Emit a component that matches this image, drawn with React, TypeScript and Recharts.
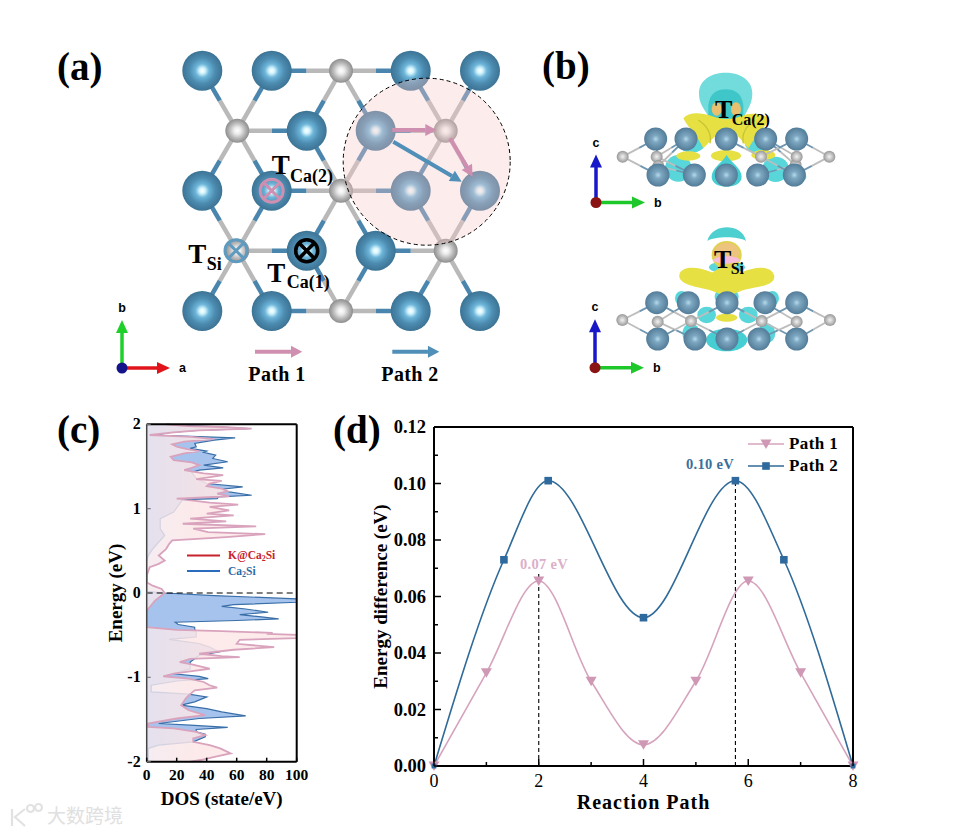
import React from 'react';
import {
  ComposedChart, Area, LineChart, Line, ScatterChart, Scatter, XAxis, YAxis,
  ReferenceLine, Legend,
} from 'recharts';

const SERIF = '"Liberation Serif", "Times New Roman", serif';
const SANS = '"Liberation Sans", Arial, sans-serif';

// panel (d) barrier profiles: [reaction coordinate, energy]
const path1X = [0, 1, 2, 3, 4, 5, 6, 7, 8];
const path1Y = [0, 0.033, 0.0655, 0.03, 0.0075, 0.03, 0.0655, 0.033, 0];
const path2X = [0, 1.335, 2.18, 4, 5.755, 6.68, 8];
const path2Y = [0, 0.073, 0.101, 0.0525, 0.101, 0.073, 0];
const xTicksD = [0, 1, 2, 3, 4, 5, 6, 7, 8];
const yTicksD = [0, 0.01, 0.02, 0.03, 0.04, 0.05, 0.06, 0.07, 0.08, 0.09, 0.1, 0.11, 0.12];

// panel (c) density of states: [energy, dos]
const dosDoped = [
  [2, 13], [1.98, 27], [1.968, 50], [1.948, 70], [1.929, 35], [1.905, 18], [1.873, 2], [1.85, 30], [1.825, 45],
  [1.794, 25], [1.762, 17], [1.734, 20], [1.706, 27], [1.682, 35], [1.655, 25], [1.615, 16], [1.575, 18], [1.548, 30],
  [1.516, 35], [1.484, 30], [1.456, 25], [1.417, 38], [1.397, 51], [1.369, 40], [1.349, 33], [1.33, 50], [1.298, 42],
  [1.266, 40], [1.238, 50], [1.206, 54], [1.179, 47], [1.147, 55], [1.119, 20], [1.071, 42], [1.048, 61], [1.02, 42],
  [0.98, 55], [0.94, 40], [0.92, 58], [0.881, 29], [0.849, 53], [0.821, 24], [0.79, 73], [0.762, 31], [0.722, 41],
  [0.698, 79], [0.663, 53], [0.623, 17], [0.583, 15], [0.524, 13], [0.444, 8], [0.385, 12], [0.345, 8], [0.306, 2],
  [0.206, 0], [0.127, 0], [0.087, 4], [0.048, 10], [0, 12], [-0.09, 5.5], [-0.21, 0], [-0.405, 0], [-0.437, 20],
  [-0.453, 50], [-0.472, 84], [-0.484, 80], [-0.496, 100], [-0.535, 100], [-0.555, 62], [-0.602, 60], [-0.642, 85],
  [-0.673, 58], [-0.72, 35], [-0.748, 50], [-0.76, 62], [-0.78, 29], [-0.819, 22], [-0.846, 30], [-0.898, 42],
  [-0.929, 29], [-0.957, 18], [-0.988, 11], [-1.016, 28], [-1.055, 38], [-1.094, 42], [-1.122, 47], [-1.153, 32],
  [-1.213, 28], [-1.252, 26], [-1.331, 23], [-1.39, 28], [-1.449, 39], [-1.488, 20], [-1.547, 1], [-1.587, 1],
  [-1.606, 18], [-1.646, 33], [-1.685, 39], [-1.724, 31], [-1.764, 31], [-1.803, 42], [-1.843, 49], [-1.902, 56],
  [-1.941, 46], [-1.98, 36], [-2, 29],
];
const dosPristine = [
  [2, 13], [1.968, 50], [1.948, 68], [1.929, 33], [1.905, 16], [1.873, 5], [1.84, 59], [1.813, 45], [1.774, 32],
  [1.734, 33], [1.714, 29], [1.682, 40], [1.667, 38], [1.635, 46], [1.595, 44], [1.556, 54], [1.516, 38], [1.484, 51],
  [1.456, 35], [1.43, 30], [1.357, 33], [1.298, 40], [1.258, 64], [1.23, 50], [1.198, 55], [1.159, 70], [1.139, 48],
  [1.119, 47], [1.107, 24], [1.06, 22], [0.96, 18], [0.881, 9], [0.762, 9], [0.683, 12], [0.524, 4], [0.444, 1],
  [0.365, 0], [0.02, 0], [0, 12], [-0.03, 45], [-0.07, 100], [-0.11, 100], [-0.138, 58], [-0.158, 50], [-0.19, 66],
  [-0.228, 81], [-0.256, 62], [-0.28, 75], [-0.307, 88], [-0.326, 60], [-0.346, 19], [-0.374, 21], [-0.405, 32],
  [-0.43, 32], [-0.46, 33], [-0.52, 33], [-0.55, 15], [-0.6, 35], [-0.642, 42], [-0.7, 48], [-0.74, 35], [-0.819, 29],
  [-0.898, 29], [-0.957, 18], [-0.988, 35], [-1.016, 41], [-1.043, 20], [-1.094, 3], [-1.173, 3], [-1.2, 28],
  [-1.232, 40], [-1.29, 32], [-1.33, 23], [-1.37, 40], [-1.41, 50], [-1.457, 66], [-1.488, 35], [-1.547, 8],
  [-1.567, 29], [-1.594, 54], [-1.618, 33], [-1.646, 33], [-1.673, 39], [-1.705, 39], [-1.764, 31], [-1.803, 8],
  [-1.843, 1], [-2, 1],
];
const xTicksC = [0, 20, 40, 60, 80, 100];
const yTicksC = [-2, -1, 0, 1, 2];

// atom sites in panel (a), picture pixels
const caRows = [70.7, 190.7, 311];
const caColsOuter = [202.3, 271.7, 410.7, 480];
const caInner = [[306.7, 130.7], [375.7, 130.7], [306.7, 250.7], [375.7, 250.7]];
const siSites = [[341, 70.7], [237.3, 130.7], [445.7, 130.7], [341, 190.7], [237.3, 250.7], [445.7, 250.7], [341, 311]];
const caSites = [...caRows.flatMap((y) => caColsOuter.map((x) => [x, y])), ...caInner];

// Si -> Ca bonds in panel (a)
const bondsA = [
  [341, 70.7, 271.7, 70.7], [341, 70.7, 410.7, 70.7], [341, 70.7, 306.7, 130.7], [341, 70.7, 375.7, 130.7],
  [237.3, 130.7, 202.3, 70.7], [237.3, 130.7, 271.7, 70.7], [237.3, 130.7, 306.7, 130.7], [237.3, 130.7, 202.3, 190.7], [237.3, 130.7, 271.7, 190.7],
  [445.7, 130.7, 410.7, 70.7], [445.7, 130.7, 480, 70.7], [445.7, 130.7, 375.7, 130.7], [445.7, 130.7, 410.7, 190.7], [445.7, 130.7, 480, 190.7],
  [341, 190.7, 306.7, 130.7], [341, 190.7, 375.7, 130.7], [341, 190.7, 271.7, 190.7], [341, 190.7, 410.7, 190.7], [341, 190.7, 306.7, 250.7], [341, 190.7, 375.7, 250.7],
  [237.3, 250.7, 202.3, 190.7], [237.3, 250.7, 271.7, 190.7], [237.3, 250.7, 306.7, 250.7], [237.3, 250.7, 202.3, 311], [237.3, 250.7, 271.7, 311],
  [445.7, 250.7, 410.7, 190.7], [445.7, 250.7, 480, 190.7], [445.7, 250.7, 375.7, 250.7], [445.7, 250.7, 410.7, 311], [445.7, 250.7, 480, 311],
  [341, 311, 271.7, 311], [341, 311, 410.7, 311], [341, 311, 306.7, 250.7], [341, 311, 375.7, 250.7],
];

// panel (b) side views, in zoomed coordinates of the crop (x/3+535, y/3+40)
const bCa = [
  [362, 297], [453, 297], [574, 297], [692, 297], [785, 297], [369, 405], [478, 405], [574, 405], [668, 405], [778, 405],
  [365, 788], [460, 788], [576, 788], [690, 788], [785, 788], [368, 897], [480, 897], [576, 897], [672, 897], [785, 897],
];
const bSi = [
  [263, 350], [365, 350], [370, 378], [678, 350], [782, 375], [785, 350], [883, 350],
  [262, 840], [368, 845], [468, 843], [680, 843], [785, 845], [885, 840],
];
const bBonds = [
  [263, 350, 362, 297], [263, 350, 369, 405], [883, 350, 785, 297], [883, 350, 778, 405],
  [370, 378, 453, 297], [370, 378, 478, 405], [370, 378, 362, 297], [365, 350, 453, 297], [365, 350, 478, 405],
  [782, 375, 692, 297], [782, 375, 668, 405], [785, 350, 692, 297], [678, 350, 574, 297], [678, 350, 785, 297], [678, 350, 778, 405],
  [262, 840, 365, 788], [262, 840, 368, 897], [885, 840, 785, 788], [885, 840, 785, 897],
  [368, 845, 460, 788], [368, 845, 480, 897], [468, 843, 365, 788], [468, 843, 368, 897], [468, 843, 576, 788], [468, 843, 576, 897],
  [680, 843, 576, 788], [680, 843, 576, 897], [680, 843, 785, 788], [680, 843, 785, 897], [785, 845, 690, 788], [785, 845, 672, 897],
];
const bxy = ([x, y]: number[]) => ({ x: 535 + x / 3, y: 40 + y / 3 });

const sitesToPoints = (s: number[][]) => s.map(([x, y]) => ({ x, y }));
const zip = (xs: number[], ys: number[]) => xs.map((x, i) => ({ x, y: ys[i] }));
const toDos = (s: number[][]) => s.map(([e, dos]) => ({ e, dos }));

const COLORS = { path1: '#d6a3bd', path2: '#2f6a98', path1Mark: '#cf98b4', path2Mark: '#2f6a9e' };

function Atom(props: any, r: number, fill: string) {
  return <circle key={`${props.cx}-${props.cy}`} cx={props.cx} cy={props.cy} r={r} fill={fill} />;
}

function Crystal() {
  const half = (b: number[]) => [(b[0] + b[2]) / 2, (b[1] + b[3]) / 2];
  return (
    <ScatterChart width={953} height={400} margin={{ top: 0, right: 0, bottom: 0, left: 0 }} style={{ position: 'absolute', left: 0, top: 0 }}>
      <XAxis type="number" dataKey="x" domain={[0, 953]} hide />
      <YAxis type="number" dataKey="y" domain={[0, 400]} reversed hide />
      {bondsA.map((b, i) => {
        const m = half(b);
        return [
          <ReferenceLine key={`as${i}`} segment={[{ x: b[0], y: b[1] }, { x: m[0], y: m[1] }]} stroke="#b9b9b9" strokeWidth={4.5} />,
          <ReferenceLine key={`ac${i}`} segment={[{ x: m[0], y: m[1] }, { x: b[2], y: b[3] }]} stroke="#4a85ad" strokeWidth={4.5} />,
        ];
      })}
      {bBonds.map((b, i) => {
        const s = bxy([b[0], b[1]]);
        const c = bxy([b[2], b[3]]);
        const m = { x: (s.x + c.x) / 2, y: (s.y + c.y) / 2 };
        return [
          <ReferenceLine key={`bs${i}`} segment={[s, m]} stroke="#bdbdbd" strokeWidth={1.8} />,
          <ReferenceLine key={`bc${i}`} segment={[m, c]} stroke="#6f96b0" strokeWidth={1.8} />,
        ];
      })}
      <Scatter data={sitesToPoints(caSites)} isAnimationActive={false} shape={(p: any) => Atom(p, 20, 'url(#caGrad)')} />
      <Scatter data={sitesToPoints(siSites)} isAnimationActive={false} shape={(p: any) => Atom(p, 12, 'url(#siGrad)')} />
      <Scatter data={bSi.map(bxy)} isAnimationActive={false} shape={(p: any) => Atom(p, 6, 'url(#siSmall)')} />
      <Scatter data={bCa.map(bxy)} isAnimationActive={false} shape={(p: any) => Atom(p, 11.5, 'url(#caSmall)')} />
    </ScatterChart>
  );
}

function DosTickX({ x, y, payload }: any) {
  return (
    <g>
      <line x1={x} x2={x} y1={y} y2={y - 4} stroke="#000" strokeWidth={1.5} />
      <text x={x} y={y + 18} textAnchor="middle" fontFamily={SERIF} fontWeight="bold" fontSize={15.5}>{payload.value}</text>
    </g>
  );
}

function DosTickY({ x, y, payload }: any) {
  return (
    <g>
      <line x1={x} x2={x + 4} y1={y} y2={y} stroke="#777" strokeWidth={1.2} />
      <text x={x - 6} y={y + 5} textAnchor="end" fontFamily={SERIF} fontWeight="bold" fontSize={16}>{payload.value}</text>
    </g>
  );
}

function DosChart() {
  return (
    <ComposedChart
      layout="vertical" width={215} height={400}
      margin={{ top: 14.3, right: 18.3, bottom: 0, left: 0 }}
      style={{ position: 'absolute', left: 100, top: 410 }}
    >
      <XAxis
        type="number" domain={[0, 100]} ticks={xTicksC} interval={0} height={48.3}
        tickSize={0} tickMargin={0} tick={<DosTickX />} tickLine={false}
        axisLine={{ stroke: '#000', strokeWidth: 2 }} allowDataOverflow
        label={{ value: 'DOS (state/eV)', position: 'center', dy: 12, style: { fontFamily: SERIF, fontWeight: 'bold', fontSize: 19, fill: '#000' } }}
      />
      <YAxis
        type="number" dataKey="e" domain={[-2, 2]} ticks={yTicksC} interval={0} width={46.7} reversed
        tickSize={0} tickMargin={0} tick={<DosTickY />} tickLine={false}
        axisLine={{ stroke: '#444', strokeWidth: 1.5 }}
        label={{ value: 'Energy (eV)', angle: -90, position: 'center', dx: -8, style: { fontFamily: SERIF, fontWeight: 'bold', fontSize: 19, fill: '#000' } }}
      />
      <ReferenceLine y={2} stroke="#000" strokeWidth={2} />
      <ReferenceLine x={100} stroke="#000" strokeWidth={2} />
      <Area data={toDos(dosPristine)} dataKey="dos" type="linear" stroke="#3a6fa8" strokeWidth={1.2} fill="#a6c3ee" fillOpacity={1} isAnimationActive={false} dot={false} activeDot={false} />
      <Area data={toDos(dosDoped)} dataKey="dos" type="linear" stroke="#d9a3bd" strokeWidth={1.8} fill="url(#pinkGrad)" fillOpacity={1} isAnimationActive={false} dot={false} activeDot={false} />
      <ReferenceLine y={0} stroke="#000" strokeWidth={1} strokeDasharray="6 4" />
    </ComposedChart>
  );
}

function TickX({ x, y, payload }: any) {
  const major = payload.value % 2 === 0;
  return (
    <g>
      <line x1={x} x2={x} y1={y} y2={y - (major ? 7 : 4)} stroke="#000" strokeWidth={1.5} />
      {major && <text x={x} y={y + 21} textAnchor="middle" fontFamily={SERIF} fontSize={18}>{payload.value}</text>}
    </g>
  );
}

function TickY({ x, y, payload }: any) {
  const major = Math.round(payload.value * 100) % 2 === 0;
  return (
    <g>
      <line x1={x} x2={x + (major ? 7 : 4)} y1={y} y2={y} stroke="#000" strokeWidth={1.5} />
      {major && <text x={x - 8} y={y + 6} textAnchor="end" fontFamily={SERIF} fontWeight="bold" fontSize={18.5}>{payload.value.toFixed(2)}</text>}
    </g>
  );
}

const triDot = (p: any) => (
  <path key={`t${p.cx}`} d={`M${p.cx - 5.5} ${p.cy - 4.5}h11l-5.5 9.5z`} fill={COLORS.path1Mark} />
);
// the two end points sit on the frame and only show as small dots
const squareDot = (p: any) => {
  const end = p.index === 0 || p.index === path2X.length - 1;
  const s = end ? 2.4 : 3.8;
  return <rect key={`s${p.cx}`} x={p.cx - s} y={p.cy - s} width={s * 2} height={s * 2} fill={COLORS.path2Mark} />;
};

function PathLegend({ payload }: any) {
  return (
    <div style={{ fontFamily: SERIF, fontWeight: 'bold', fontSize: 17, letterSpacing: 0.4, lineHeight: '22px' }}>
      {(payload || []).map((it: any) => (
        <div key={it.value} style={{ display: 'flex', alignItems: 'center', height: 22 }}>
          <svg width={41} height={14}>
            <line x1={0} x2={36} y1={7} y2={7} stroke={it.color} strokeWidth={1.5} />
            {it.value === 'Path 1'
              ? <path d="M12.5 2.5h11l-5.5 9.5z" fill={COLORS.path1Mark} />
              : <rect x={14.2} y={3.2} width={7.6} height={7.6} fill={COLORS.path2Mark} />}
          </svg>
          <span>{it.value}</span>
        </div>
      ))}
    </div>
  );
}

function EnergyChart() {
  return (
    <LineChart
      width={540} height={420} margin={{ top: 17, right: 27, bottom: 0, left: 0 }}
      style={{ position: 'absolute', left: 340, top: 410 }}
    >
      <XAxis
        type="number" dataKey="x" domain={[0, 8]} ticks={xTicksD} interval={0} height={64}
        tickSize={0} tickMargin={0} tick={<TickX />} tickLine={false} axisLine={{ stroke: '#000', strokeWidth: 2 }}
        label={{ value: 'Reaction Path', position: 'center', dy: 3.5, style: { fontFamily: SERIF, fontWeight: 'bold', fontSize: 20, letterSpacing: 1, fill: '#000' } }}
      />
      <YAxis
        type="number" dataKey="y" domain={[0, 0.12]} ticks={yTicksD} interval={0} width={94}
        tickSize={0} tickMargin={0} tick={<TickY />} tickLine={false} axisLine={{ stroke: '#000', strokeWidth: 2 }}
        label={{ value: 'Energy difference (eV)', angle: -90, position: 'center', dx: -7, style: { fontFamily: SERIF, fontWeight: 'bold', fontSize: 19, fill: '#000' } }}
      />
      <ReferenceLine y={0.12} stroke="#000" strokeWidth={2} />
      <ReferenceLine x={8} stroke="#000" strokeWidth={2} />
      <ReferenceLine segment={[{ x: 2, y: 0 }, { x: 2, y: 0.068 }]} stroke="#000" strokeWidth={1.1} strokeDasharray="4 3" />
      <ReferenceLine segment={[{ x: 5.755, y: 0 }, { x: 5.755, y: 0.101 }]} stroke="#000" strokeWidth={1.1} strokeDasharray="4 3" />
      <Legend
        layout="horizontal" align="center" verticalAlign="middle"
        content={<PathLegend />}
        wrapperStyle={{ left: 408, top: 23, width: 110, height: 44 }}
      />
      <Line name="Path 1" data={zip(path1X, path1Y)} dataKey="y" type="monotone" stroke={COLORS.path1} strokeWidth={1.6} dot={triDot} isAnimationActive={false} />
      <Line name="Path 2" data={zip(path2X, path2Y)} dataKey="y" type="monotone" stroke={COLORS.path2} strokeWidth={1.6} dot={squareDot} isAnimationActive={false} />
    </LineChart>
  );
}

function Defs() {
  return (
    <defs>
      <radialGradient id="caGrad">
        <stop offset="0%" stopColor="#ffffff" />
        <stop offset="14%" stopColor="#d5f5fd" />
        <stop offset="34%" stopColor="#6db5d9" />
        <stop offset="65%" stopColor="#4c8bb0" />
        <stop offset="100%" stopColor="#3c7394" />
      </radialGradient>
      <radialGradient id="siGrad">
        <stop offset="0%" stopColor="#ffffff" />
        <stop offset="28%" stopColor="#ececec" />
        <stop offset="65%" stopColor="#b8b8b8" />
        <stop offset="100%" stopColor="#8d8d8d" />
      </radialGradient>
      <radialGradient id="caSmall">
        <stop offset="0%" stopColor="#b4dbec" />
        <stop offset="30%" stopColor="#7ea7c2" />
        <stop offset="100%" stopColor="#537c98" />
      </radialGradient>
      <radialGradient id="siSmall">
        <stop offset="0%" stopColor="#f2f2f2" />
        <stop offset="60%" stopColor="#bdbdbd" />
        <stop offset="100%" stopColor="#979797" />
      </radialGradient>
      <linearGradient id="pinkGrad" x1="0" x2="1" y1="0" y2="0">
        <stop offset="0%" stopColor="#f3e8ee" stopOpacity={0.8} />
        <stop offset="35%" stopColor="#fde6e6" stopOpacity={0.86} />
        <stop offset="100%" stopColor="#fdeaea" stopOpacity={0.9} />
      </linearGradient>
    </defs>
  );
}

// isosurfaces behind the atoms, crop coordinates of panel (b)
function Isosurfaces() {
  const Y = '#e6e042';
  const C = '#58d6da';
  return (
    <g transform="translate(535 40) scale(0.3333)">
      {/* upper cell */}
      <ellipse cx={430} cy={385} rx={40} ry={40} fill={C} />
      <ellipse cx={722} cy={388} rx={40} ry={38} fill={C} />
      <ellipse cx={470} cy={310} rx={40} ry={28} fill={C} />
      <ellipse cx={670} cy={310} rx={40} ry={28} fill={C} />
      <ellipse cx={800} cy={280} rx={14} ry={14} fill={C} />
      <ellipse cx={800} cy={410} rx={14} ry={14} fill={C} />
      <path d="M492 160C492 120 530 98 572 98C615 98 652 120 652 160C652 190 640 205 625 235L525 235C505 205 492 190 492 160Z" fill="#72dcdc" />
      <path d="M520 195C525 160 545 148 572 148C600 148 620 160 625 195L625 240L520 240Z" fill="#3fc6c8" />
      <ellipse cx={545} cy={207} rx={15} ry={20} fill="#e8c070" />
      <ellipse cx={603} cy={207} rx={15} ry={20} fill="#e8c070" />
      <path d="M445 235C460 218 490 215 530 228C560 240 590 240 620 228C650 215 690 222 702 238C690 262 660 290 640 325C620 300 600 275 575 268C550 275 530 300 505 325C490 290 460 265 445 235Z" fill={Y} />
      <path d="M490 240C520 260 530 285 525 310M660 240C630 260 620 285 625 310" stroke="#c9c434" strokeWidth={4} fill="none" />
      <ellipse cx={460} cy={348} rx={36} ry={14} fill={Y} />
      <ellipse cx={573} cy={347} rx={45} ry={17} fill={Y} />
      <ellipse cx={685} cy={345} rx={36} ry={15} fill={Y} />
      <path d="M575 345C590 370 620 385 620 410C620 430 600 440 575 440C550 440 530 430 530 410C530 385 560 370 575 345Z" fill="#45cfd3" />
      {/* lower cell */}
      <ellipse cx={440} cy={775} rx={20} ry={22} fill={C} />
      <ellipse cx={712} cy={775} rx={20} ry={22} fill={C} />
      <ellipse cx={515} cy={825} rx={28} ry={25} fill={C} />
      <ellipse cx={640} cy={825} rx={28} ry={25} fill={C} />
      <ellipse cx={468} cy={880} rx={26} ry={30} fill={C} />
      <ellipse cx={695} cy={880} rx={26} ry={30} fill={C} />
      <ellipse cx={575} cy={900} rx={62} ry={34} fill="#45cfd3" />
      <ellipse cx={575} cy={770} rx={36} ry={26} fill={C} />
      <ellipse cx={575} cy={833} rx={32} ry={12} fill={Y} />
      <path d="M517 603C525 572 555 562 575 562C600 562 628 575 633 603C610 588 540 588 517 603Z" fill="#4fd0d0" />
      <ellipse cx={548} cy={682} rx={26} ry={14} fill={C} />
      <ellipse cx={604} cy={682} rx={26} ry={14} fill={C} />
      <path d="M433 705C437 682 475 675 530 697L620 697C670 675 712 680 718 708C720 730 690 738 650 745C620 750 600 760 575 772C550 760 530 750 500 745C470 738 430 730 433 705Z" fill={Y} />
      <ellipse cx={575} cy={712} rx={46} ry={30} fill={Y} />
      <ellipse cx={575} cy={645} rx={45} ry={42} fill="#dfd24e" />
      <ellipse cx={575} cy={638} rx={37} ry={30} fill="#ecc47e" />
      <ellipse cx={575} cy={660} rx={40} ry={11} fill="#f6bcd8" />
    </g>
  );
}

function Arrow({ x1, y1, x2, y2, color, w = 12, len = 34, hw = 18 }: any) {
  const d = Math.hypot(x2 - x1, y2 - y1);
  const ux = (x2 - x1) / d;
  const uy = (y2 - y1) / d;
  const bx = x2 - ux * len;
  const by = y2 - uy * len;
  return (
    <g>
      <line x1={x1} y1={y1} x2={bx} y2={by} stroke={color} strokeWidth={w} />
      <path d={`M${x2} ${y2}L${bx - uy * hw} ${by + ux * hw}L${bx + uy * hw} ${by - ux * hw}Z`} fill={color} />
    </g>
  );
}

function CrossMark({ cx, cy, r, color, w }: any) {
  const k = r * 0.7;
  return (
    <g fill="none" stroke={color} strokeWidth={w}>
      <circle cx={cx} cy={cy} r={r} />
      <path d={`M${cx - k} ${cy - k}L${cx + k} ${cy + k}M${cx - k} ${cy + k}L${cx + k} ${cy - k}`} />
    </g>
  );
}

function Site({ x, y, sub, bx, by, size = 27, subSize = 18 }: any) {
  return (
    <g fontFamily={SERIF} fontWeight="bold">
      <text x={x} y={y} fontSize={size}>T</text>
      <text x={bx} y={by} fontSize={subSize}>{sub}</text>
    </g>
  );
}

function Triad({ ox, oy, up, right, upLabel, rightLabel, upColor, rightColor, dot }: any) {
  return (
    <g>
      <line x1={ox} y1={oy} x2={ox} y2={oy - up + 12} stroke={upColor} strokeWidth={3.5} />
      <path d={`M${ox} ${oy - up}l-6 13h12z`} fill={upColor} />
      <line x1={ox} y1={oy} x2={ox + right - 12} y2={oy} stroke={rightColor} strokeWidth={3.5} />
      <path d={`M${ox + right} ${oy}l-13 -6v12z`} fill={rightColor} />
      <circle cx={ox} cy={oy} r={5.5} fill={dot} />
      <text x={ox} y={oy - up - 8} textAnchor="middle" fontFamily={SANS} fontWeight="bold" fontSize={12.5}>{upLabel}</text>
      <text x={ox + right + 9} y={oy + 4} fontFamily={SANS} fontWeight="bold" fontSize={12.5}>{rightLabel}</text>
    </g>
  );
}

function Overlay() {
  const label = { fontFamily: SERIF, fontWeight: 'bold' } as const;
  return (
    <svg width={953} height={834} style={{ position: 'absolute', left: 0, top: 0, pointerEvents: 'none' }}>
      {/* highlight */}
      <circle cx={426.7} cy={161.7} r={83.5} fill="#f9c9c9" fillOpacity={0.35} stroke="#000" strokeWidth={1} strokeDasharray="4 3" />
      <g transform="translate(50 40) scale(0.3333)">
        <Arrow x1={1027} y1={270} x2={1160} y2={270} color="#cf8fb0" />
        <Arrow x1={1200} y1={295} x2={1268} y2={410} color="#cf8fb0" />
        <Arrow x1={1030} y1={305} x2={1235} y2={425} color="#4f8fb8" />
        <Arrow x1={615} y1={935} x2={757} y2={935} color="#cf8fb0" />
        <Arrow x1={1027} y1={935} x2={1168} y2={935} color="#4f8fb8" />
      </g>
      <CrossMark cx={271.7} cy={190.7} r={11.5} color="#cf8fb0" w={3} />
      <CrossMark cx={306.7} cy={250.7} r={11} color="#000" w={3.6} />
      <CrossMark cx={236} cy={250.7} r={11} color="#5f9abf" w={3} />
      <Site x={271.7} y={174} bx={290} by={181.7} sub="Ca(2)" />
      <Site x={188.3} y={262.7} bx={206.7} by={270} sub="Si" />
      <Site x={267.3} y={281.7} bx={286.7} by={288} sub="Ca(1)" />
      <Site x={715} y={118.3} bx={731.7} by={125} sub="Ca(2)" size={26} subSize={16} />
      <Site x={714} y={267.7} bx={730.7} by={274} sub="Si" size={26} subSize={16} />
      <Triad ox={122} oy={368} up={48} right={48} upLabel="b" rightLabel="a" upColor="#1fd02a" rightColor="#e0141a" dot="#14148a" />
      <Triad ox={596} oy={202.5} up={48} right={49} upLabel="c" rightLabel="b" upColor="#1818c8" rightColor="#1fc82a" dot="#8a1414" />
      <Triad ox={595} oy={367.7} up={48.5} right={49} upLabel="c" rightLabel="b" upColor="#1818c8" rightColor="#1fc82a" dot="#8a1414" />
      <text x={277} y={381} style={label} fontSize={20} letterSpacing={0.4} textAnchor="middle">Path 1</text>
      <text x={410} y={381} style={label} fontSize={20} letterSpacing={0.4} textAnchor="middle">Path 2</text>
      {/* panel letters */}
      <text x={57} y={80} style={label} fontSize={39}>(a)</text>
      <text x={542} y={79} style={label} fontSize={39}>(b)</text>
      <text x={57} y={443} style={label} fontSize={39}>(c)</text>
      <text x={333} y={443} style={label} fontSize={39}>(d)</text>
      {/* panel (c) legend */}
      <line x1={187} x2={220} y1={555.5} y2={555.5} stroke="#c8232c" strokeWidth={1.8} />
      <line x1={187} x2={220} y1={571} y2={571} stroke="#2a6cc0" strokeWidth={1.8} />
      <text x={228} y={559} style={label} fontSize={11.5} fill="#c8232c">K@Ca<tspan fontSize={8} dy={2}>2</tspan><tspan dy={-2}>Si</tspan></text>
      <text x={228} y={575} style={label} fontSize={11.5} fill="#2b6ca8">Ca<tspan fontSize={8} dy={2}>2</tspan><tspan dy={-2}>Si</tspan></text>
      {/* panel (d) notes */}
      <text x={544} y={569} style={label} fontSize={14.5} letterSpacing={0.3} textAnchor="middle" fill="#dcb0c8">0.07 eV</text>
      <text x={710} y={469} style={label} fontSize={14.5} letterSpacing={0.3} textAnchor="middle" fill="#3b6f99">0.10 eV</text>
      {/* watermark */}
      <g fill="none" stroke="#e2e2e2" strokeWidth={2.2}>
        <path d="M12 809V826M25 809L15 817L25 826" />
        <circle cx={30.5} cy={808.5} r={3.5} />
        <circle cx={38.5} cy={807.5} r={3.5} />
      </g>
      <text x={47} y={823} fontFamily='"Noto Sans CJK SC"' fontSize={19} fill="#e0e0e0">大数跨境</text>
    </svg>
  );
}

export default function App() {
  return (
    <div style={{ position: 'absolute', left: 0, top: 0, width: 953, height: 834, background: '#fff', overflow: 'hidden' }}>
      <svg width={953} height={834} style={{ position: 'absolute', left: 0, top: 0 }}>
        <Defs />
        <Isosurfaces />
      </svg>
      <Crystal />
      <DosChart />
      <EnergyChart />
      <Overlay />
    </div>
  );
}
